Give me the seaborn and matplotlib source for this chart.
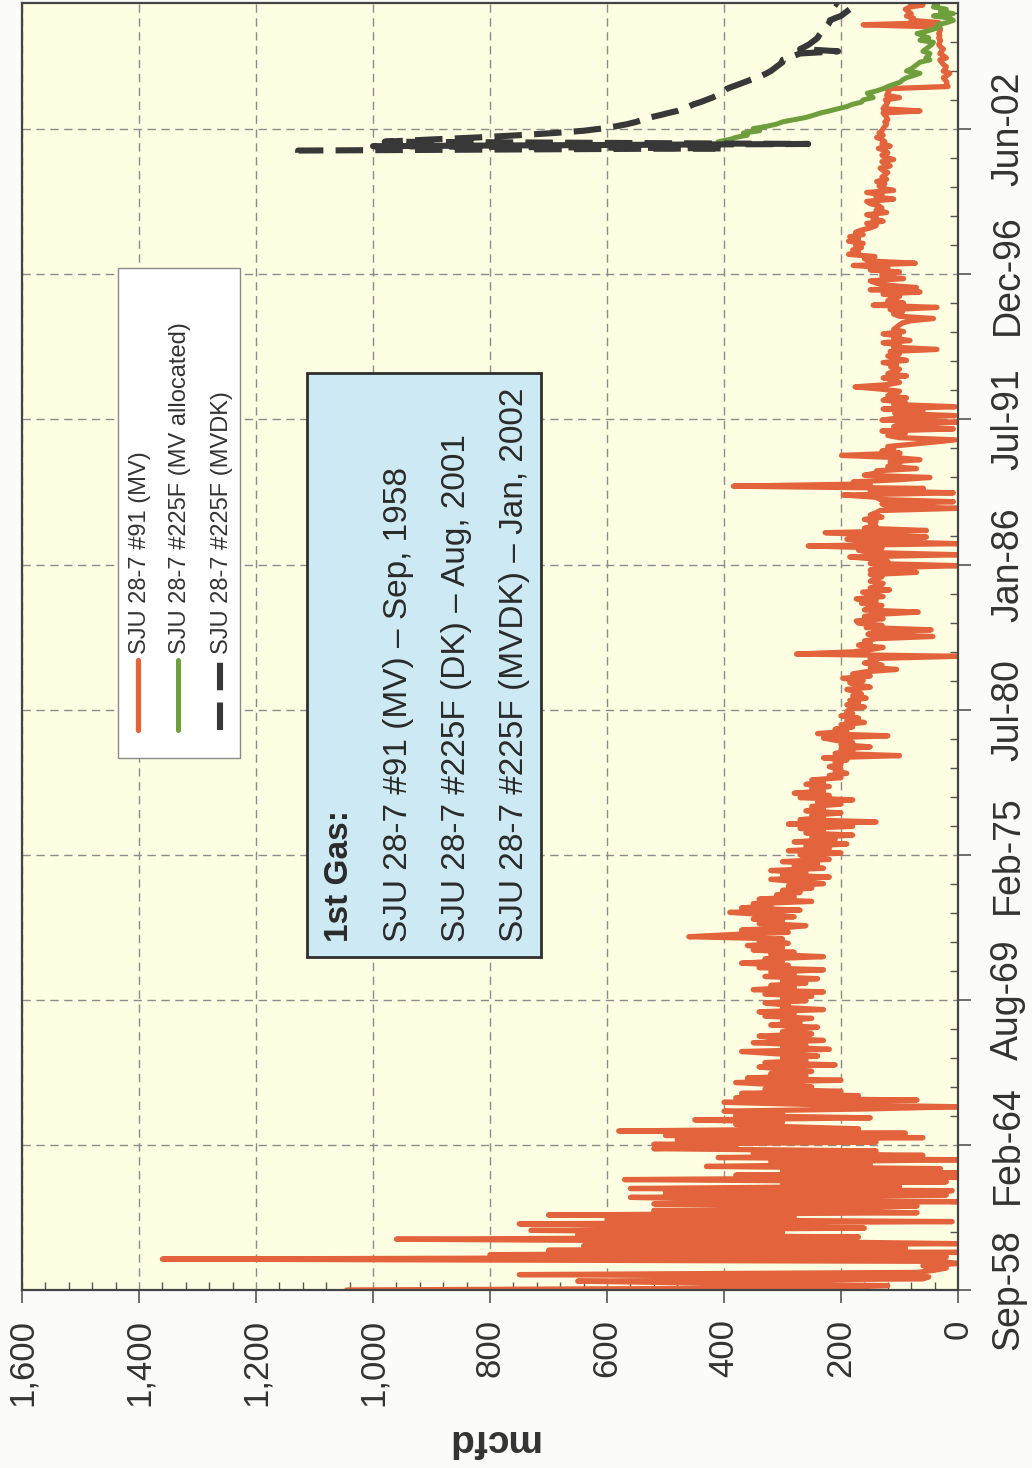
import numpy as np
import pandas as pd
import matplotlib
matplotlib.use("Agg")
import matplotlib.pyplot as plt
import matplotlib.dates as mdates
from matplotlib.patches import Rectangle
from matplotlib.lines import Line2D
from matplotlib.ticker import MultipleLocator, FixedLocator, FuncFormatter
import seaborn as sns

sns.set_style("white")
plt.rcParams["font.family"] = ["Liberation Sans", "DejaVu Sans"]

W, H = 1032, 1468

# --- monthly rates (mcfd) ---
# SJU 28-7 #91 (MV), first month Sep-1958
MV91_START = "1958-09-01"
mv91_1958 = [1045, 220, 120, 400, 650, 60, 50, 750, 70, 40, 20, 60,
             0, 30, 1360, 20, 800, 0, 700, 90, 640, 0, 300, 960,
             170, 650, 300, 730, 160, 420, 750, 10, 600, 280, 700, 70,
             520, 200, 70, 520, 0, 400, 560, 20, 500, 10, 560, 100,
             300, 20, 570, 0, 380, 0, 300, 30, 430, 150, 320, 0,
             410, 60, 350, 140, 520, 380]
mv91_1964 = [520, 140, 480, 60, 500, 90, 580, 170, 300, 380, 300, 450,
             150, 380, 300, 400, 160, 0, 250, 400, 70, 380, 170, 370,
             200, 330, 250, 310, 380, 200, 360, 260, 320, 250, 300, 340,
             210, 330, 260, 300, 240, 310, 370, 220, 300, 260, 350, 230,
             300, 340, 250, 300, 280, 240, 320, 270, 300, 250, 330, 280,
             340, 230, 300, 290, 330, 260]
mv91_1969 = [300, 250, 330, 230, 350, 280, 320, 260, 300, 240, 330, 280,
             320, 230, 340, 290, 370, 300, 330, 230, 320, 280, 350, 300,
             360, 290, 340, 300, 460, 380, 290, 370, 300, 260, 340, 300,
             350, 280, 330, 390, 270, 370, 320, 350, 250, 340, 280, 310,
             270, 300, 250, 290, 230, 280, 320, 220, 300, 260, 320, 230,
             280, 240, 300, 220, 250, 270]
mv91_1975 = [200, 290, 220, 260, 190, 280, 210, 250, 180, 260, 230, 270,
             180, 290, 140, 270, 230, 250, 200, 260, 230, 250, 200, 240,
             180, 270, 220, 280, 230, 250, 220, 260, 230, 250, 200, 220,
             190, 210, 200, 220, 200, 210, 190, 230, 100, 210, 180, 200,
             150, 200, 180, 210, 230, 120, 240, 190, 210, 180, 200, 160,
             190, 170, 200, 180, 190]
mv91_1980 = [185, 160, 190, 170, 185, 157, 180, 165, 175, 190, 150, 170,
             185, 162, 197, 150, 180, 157, 105, 150, 130, 160, 140, 150,
             0, 276, 180, 150, 128, 170, 150, 160, 140, 43, 154, 140,
             46, 157, 130, 170, 174, 128, 160, 140, 68, 160, 150, 130,
             165, 140, 174, 128, 150, 163, 117, 150, 135, 128, 150, 140,
             130, 150, 71, 150, 140, 0]
mv91_1986 = [150, 120, 140, 185, 0, 150, 170, 130, 256, 0, 150, 190,
             54, 150, 227, 54, 160, 140, 150, 140, 160, 130, 150, 140,
             133, 2, 120, 130, 8, 133, 140, 196, 8, 150, 59, 384,
             150, 179, 100, 48, 160, 140, 139, 71, 120, 100, 116, 65,
             110, 199, 99, 130, 110, 120, 80, 42, 5, 100, 120, 90,
             130, 8, 110, 100, 2, 130]
mv91_1991 = [100, 5, 108, 60, 128, 5, 110, 90, 128, 88, 120, 110,
             100, 133, 176, 120, 100, 110, 128, 88, 120, 110, 100, 115,
             105, 128, 88, 110, 120, 100, 116, 36, 110, 100, 128, 82,
             110, 100, 128, 93, 110, 105, 100, 95, 80, 42, 100, 110,
             95, 116, 36, 145, 93, 120, 110, 100, 128, 65, 150, 71,
             120, 140, 150, 93, 130]
mv91_1997 = [130, 100, 150, 120, 179, 73, 150, 160, 142, 187, 170, 180,
             165, 175, 162, 187, 170, 185, 162, 175, 165, 150, 140, 156,
             128, 145, 140, 156, 122, 140, 130, 135, 150, 156, 110, 140,
             130, 156, 110, 130, 135, 125, 139, 122, 130, 125, 120, 128,
             133, 116, 125, 130, 110, 125, 130, 120, 125, 136, 116, 130,
             125, 130, 139, 128, 135, 130, 128, 125, 122, 125, 120, 122,
             125, 128, 65, 128, 125, 122, 120, 124, 100, 122, 120, 118,
             122, 17, 20, 19, 22, 25, 19, 14, 25, 22, 20, 25,
             28, 31, 20, 25, 31, 28, 25, 30, 33, 31, 30, 33,
             31, 33, 31, 30, 33, 162, 33, 80, 76, 88, 80, 85,
             90, 82, 60, 82]

# SJU 28-7 #225F (MV allocated), first month Jan-2002
ALLOC_START = "2002-01-01"
mv_alloc = [410, 390, 380, 360, 367, 339, 350, 327, 310, 300,
            280, 260, 247, 235, 220, 205, 190, 180, 165, 162,
            145, 150, 155, 140, 128, 120, 110, 99, 95, 88,
            76, 65, 88, 80, 75, 70, 65, 48, 55, 50,
            48, 60, 55, 50, 45, 42, 65, 50, 60, 70,
            55, 42, 31, 35, 19, 8, 15, 42, 8, 30,
            20, 42, 35, 42]

# SJU 28-7 #225F (MVDK), first month Aug-2001
MVDK_START = "2001-08-01"
mvdk = [1128, 1128, 400, 1000, 256, 980, 900, 820, 750, 690,
        640, 610, 585, 565, 550, 538, 527, 510, 495, 480,
        470, 460, 452, 440, 430, 420, 412, 405, 400, 395,
        385, 375, 365, 355, 345, 335, 327, 320, 315, 310,
        305, 300, 300, 290, 280, 270, 205, 270, 262, 255,
        250, 245, 240, 238, 235, 232, 228, 225, 222, 220,
        219, 210, 200, 195, 190, 185, 200, 205, 210]

series_names = ["SJU 28-7 #91 (MV)", "SJU 28-7 #225F (MV allocated)",
                "SJU 28-7 #225F (MVDK)"]
series_colors = ["#e2633c", "#6e9f3c", "#383838"]

first_gas = ["SJU 28-7 #91 (MV) \u2013 Sep, 1958",
             "SJU 28-7 #225F (DK) \u2013 Aug, 2001",
             "SJU 28-7 #225F (MVDK) \u2013 Jan, 2002"]

date_labels = ["Sep-58", "Feb-64", "Aug-69", "Feb-75", "Jul-80",
               "Jan-86", "Jul-91", "Dec-96", "Jun-02"]
AXIS_START = "1958-09-01"
TICK_DAYS = 2000
AXIS_DAYS = 17740


def frame(values, start, name):
    dates = pd.date_range(start, periods=len(values), freq="MS")
    return pd.DataFrame({"t": mdates.date2num(dates), "mcfd": values, "well": name})


mv91 = mv91_1958 + mv91_1964 + mv91_1969 + mv91_1975 + mv91_1980 + mv91_1986 + mv91_1991 + mv91_1997
frames = [frame(mv91, MV91_START, series_names[0]),
          frame(mv_alloc, ALLOC_START, series_names[1]),
          frame(mvdk, MVDK_START, series_names[2])]


def fx(x):
    return x / W


def fy(y):
    return 1 - y / H


fig = plt.figure(figsize=(W / 100, H / 100), dpi=100, facecolor="#fbfbf9")
ax = fig.add_axes([fx(22), fy(1290), (958 - 22) / W, (1290 - 3) / H])
ax.set_facecolor("#fefee3")

# chart is drawn turned a quarter turn: value across, time upwards
styles = ["-", "-", (0, (4.5, 2.0))]
widths = [3.8, 3.6, 4.4]
for d, c, ls, lw in zip(frames, series_colors, styles, widths):
    sns.lineplot(data=d, x="mcfd", y="t", orient="y", estimator=None,
                 color=c, linestyle=ls, linewidth=lw, ax=ax, legend=False)

t0 = mdates.date2num(pd.Timestamp(AXIS_START))
ax.set_xlim(1600, 0)
ax.set_ylim(t0, t0 + AXIS_DAYS)

ax.xaxis.set_major_locator(MultipleLocator(200))
ax.xaxis.set_minor_locator(MultipleLocator(40))
ax.xaxis.set_major_formatter(FuncFormatter(lambda v, p: f"{v:,.0f}"))

ax.yaxis.tick_right()
ax.yaxis.set_major_locator(FixedLocator([t0 + TICK_DAYS * k for k in range(len(date_labels))]))
ax.yaxis.set_minor_locator(FixedLocator([t0 + TICK_DAYS / 5 * k for k in range(50)]))
ax.set_yticklabels(date_labels)

ax.tick_params(axis="x", which="major", direction="out", length=9, width=1.2,
               color="#555555", bottom=True, top=False, labelsize=25,
               labelcolor="#333333", labelrotation=90, pad=12)
ax.tick_params(axis="x", which="minor", direction="in", length=6, width=1.0,
               color="#555555", bottom=True, top=False)
ax.tick_params(axis="y", which="major", direction="out", length=9, width=1.2,
               color="#555555", right=True, left=False, labelright=True,
               labelleft=False, labelsize=27, labelcolor="#333333",
               labelrotation=90, pad=14)
ax.tick_params(axis="y", which="minor", direction="in", length=6, width=1.0,
               color="#555555", right=True, left=False)
for lbl in ax.get_yticklabels():
    lbl.set_va("center")

ax.grid(True, which="major", color="#8c8c8c", linestyle=(0, (6, 4)), linewidth=1.0)
ax.set_axisbelow(True)
for s in ax.spines.values():
    s.set_visible(True)
    s.set_color("#444444")
    s.set_linewidth(1.6)

ax.set_xlabel("")
ax.set_ylabel("")
fig.text(fx(492), fy(1440), "mcfd", rotation=180, ha="center", va="center",
         fontsize=28, fontweight="bold", color="#333333")

# legend box
fig.add_artist(Rectangle((fx(118), fy(758)), (240 - 118) / W, (758 - 268) / H,
                         transform=fig.transFigure, facecolor="white",
                         edgecolor="#8a8a8a", linewidth=1.0))
leg_x = [140, 180, 222]
for xx, name, c, ls, lw in zip(leg_x, series_names, series_colors, styles, widths):
    fig.add_artist(Line2D([fx(xx - 2), fx(xx - 2)], [fy(730), fy(660)],
                          transform=fig.transFigure, color=c, linestyle=ls,
                          linewidth=lw, solid_capstyle="round"))
    fig.text(fx(xx), fy(654), name, rotation=90, ha="center", va="bottom",
             fontsize=17, color="#333333")

# first gas note
fig.add_artist(Rectangle((fx(307), fy(957)), (541 - 307) / W, (957 - 373) / H,
                         transform=fig.transFigure, facecolor="#cdeaf4",
                         edgecolor="#2e2e2e", linewidth=2.0))
fig.text(fx(339), fy(942), "1st Gas:", rotation=90, ha="center", va="bottom",
         fontsize=24, fontweight="bold", color="#2a2a2a")
for i, line in enumerate(first_gas):
    fig.text(fx(398 + 58 * i), fy(942), line, rotation=90, ha="center",
             va="bottom", fontsize=24, color="#2a2a2a")

fig.savefig("out.png", dpi=100, facecolor=fig.get_facecolor())
